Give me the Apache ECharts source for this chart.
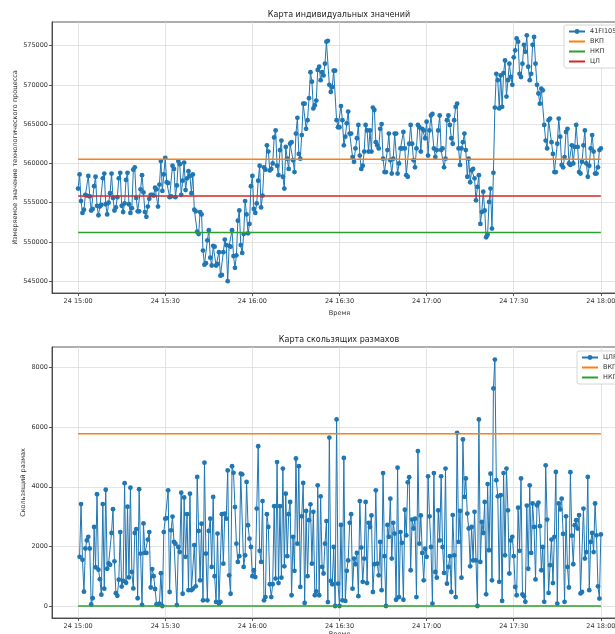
<!DOCTYPE html>
<html><head><meta charset="utf-8">
<script src="https://cdn.jsdelivr.net/npm/echarts@6/dist/echarts.min.js"></script>
<style>html,body{margin:0;padding:0;background:#fff}#c{width:615px;height:634px}</style>
</head><body><div id="c"></div>
<script>
// ---- data ----
const seriesName = '41FI1055';
const SAMPLE_STEP_MIN = 0.5;           // one sample every 30 s, starting 24 15:00
const xTickValues = [0, 30, 60, 90, 120, 150, 180];
const xTickLabels = ['24 15:00', '24 15:30', '24 16:00', '24 16:30', '24 17:00', '24 17:30', '24 18:00'];
const yTopTicks = [545000, 550000, 555000, 560000, 565000, 570000, 575000];
const yBottomTicks = [0, 2000, 4000, 6000, 8000];

const UCL_X = 560520;
const CL_X = 555840;
const LCL_X = 551210;
const UCL_MR = 5780;
const LCL_MR = 0;

const values1500 = [
556800,558600,555200,553700,554100,556000,555900,558400,555800,554000,
554200,557100,558300,554600,553400,554500,554700,558100,558700,554800,
553500,555000,556200,558700,555600,554000,554400,555700,558100,558800,
554600,553800,554900,557900,558800,554800,553700,554300,559200,559500,
555600,553900,553900,556700,558500,556300,553800,553200,554500,555500,
556000,556000,555900,556900,556700,554500,557300,560300,556500,558600];
const values1530 = [
560700,557600,557500,555700,555800,559700,559300,555700,557200,560300,
559900,556000,557800,560100,556600,558100,559000,558400,556200,558600,
554100,553900,551300,551000,553800,553500,548900,547100,547300,550200,
551500,548000,547000,549500,549400,547000,547200,548700,545700,545800,
548700,550300,549600,545000,549500,549400,551500,548200,546700,548300,
552700,554000,549600,548600,551000,555200,553500,551100,552300,557100,
558400,554200,553700];
const values1600 = [
554900,557800,559700,554400,555900,559500,559200,562300,561500,559100,
559300,560000,563300,564200,559700,558500,561700,562900,558300,556800,
562100,560600,559300,562500,562700,560400,558900,563800,565800,561200,
560600,563600,567600,567600,564400,565500,568300,571600,570400,567000,
567400,568000,571900,572300,570600,571600,571200,572700,575500,575600,
570000,569100,569700,571800,571800,565500,564600,564600];
const values1630 = [
567300,565500,562300,563400,565100,566600,563800,563800,560800,560200,
561900,563200,564900,561000,559300,559700,561500,564900,564200,561500,
564200,561500,567100,566800,562700,562300,561900,564400,565000,560600,
558900,558900,561700,563800,560400,558700,560600,563800,563800,558700,
560000,561900,561900,564000,561900,558500,558300,562500,564900,562500,
560400,559500,561900,564900,564600,561500,564400,564200,563200,565300];
const values1700 = [
561000,564200,566100,566300,561900,560800,561700,564200,566100,561700,
561900,559500,560600,565500,566100,564900,563200,562500,565500,567200,
567600,561900,559800,561900,562700,563800,561700,558300,560600,557600,
559100,559300,558100,555300,557000,558500,552300,553800,556400,554000,
550600,550900,555100,556800,551700,558800];
const values1723 = [
567100,571400,570600,567000,571200,567200,571500,573100,568500,570600,
572700,571000,570000,573500,574400,575900,575500,571400,571000,572700,
575100,574200,576300,572300,570600,571400,575100,576100,572700,570000,
568900,567600,569500,569300,564900,562900,561900,565500,565700,562700,
561200,558900,558900,562500,565700,563400,559800,559500,560800,564000,
564400,560000,559800,562300,560000,562100,564900,562100,558900,558700,
560200,562300,564200,560000,558300,559700,561900,563600,561500,558700,
558700,559500,561700,561900];

// moving ranges, first one at 15:00:30
const ranges1500 = [
1650,3420,1550,480,1930,2200,2320,1930,50,260,
2650,1300,3750,1220,900,380,3420,580,3900,1250,
1430,1380,2450,3250,1500,430,340,880,2480,650,
840,4120,780,3330,960,3970,1140,590,2450,2580,
260,3920,1760,40,2770,1780,1780,2230,2480,620,
1240,1000,570,60,50,80,1100,0,2480,2930];
const ranges1530 = [
2950,3880,470,2540,3000,2150,2090,30,1980,1810,
3800,410,3640,1650,3080,530,3770,530,580,2040,
660,4330,2520,860,2760,190,4810,1760,190,2520,
2930,1310,3660,1000,135,2430,80,135,3080,1420,
3100,2930,4550,1030,410,4690,4470,3320,2090,1480,
1670,4440,4420,1310,1700,4160,2710,2260,1980,1000];
const ranges1600 = [
1200,970,3270,5360,1850,1480,3520,190,300,3080,
2650,730,300,730,3350,920,4830,770,3350,950,
4610,1330,3770,1670,3080,3490,360,2320,1180,4950,
2090,4690,640,3010,4130,100,3190,1000,2880,3410,
1420,3160,360,490,4050,360,3680,1310,1090,2090,
2850,130,5650,840,730,1980,0,6260,750,0];
const ranges1630 = [
2720,190,4970,170,1180,1530,2790,3080,580,1590,
1400,1780,330,3520,1960,810,1590,3490,770,2790,
2650,3040,470,1400,3880,1420,1030,2150,530,4460,
1670,0,2720,2320,3600,1590,2790,2430,210,4640,
300,2480,2120,210,3230,2370,4150,4320,1200,2900,
2600,2930,300,5200,2090,3040,1780,860,1920,1650];
const ranges1700 = [
4350,3010,1980,80,4460,1140,950,3210,2200,4350,
1980,1110,4610,750,1310,1670,470,3050,1700,300,
5810,2150,3190,950,5590,3660,4280,3100,2600,1330,
2650,1530,3160,1530,0,6260,1480,2820,2450,3490,
390,4090,1870,4440,860,7300,8270];
const ranges1724 = [
4220,3680,810,3720,170,4460,1700,4610,3210,1090,
2200,2320,1670,640,360,3300,1850,4280,390,330,
140,3370,1250,4050,1780,3440,2650,890,3380,3470,
2680,1200,1980,140,4720,2900,440,1370,2230,770,
2320,4500,80,3440,3240,3600,2420,140,3010,1310,
620,4490,2360,1400,2710,2880,2600,3050,420,470,
3270,1590,1810,4330,530,2150,2450,1810,3440,2370,
660,250,2400];

const individualValues = [].concat(values1500, values1530, values1600, values1630, values1700, values1723);
const movingRanges = [].concat(ranges1500, ranges1530, ranges1600, ranges1630, ranges1700, ranges1724);

// ---- chart ----
const FONT = 'DejaVu Sans';
const TXT = '#333';
const BLUE = '#1f77b4', ORANGE = '#ff7f0e', GREEN = '#2ca02c', RED = '#d62728';

const topData = individualValues.map((v, i) => [i * SAMPLE_STEP_MIN, v]);
const bottomData = movingRanges.map((v, i) => [(i + 1) * SAMPLE_STEP_MIN, v]);
const xFirst = xTickValues[0], xLast = xTickValues[xTickValues.length - 1];

function xAxisCfg(gi, gap) {
  return {
    type: 'value', gridIndex: gi, min: -9, max: 189,
    axisLine: { show: true, onZero: false, lineStyle: { color: TXT, width: 0.8 } },
    axisTick: { show: true, length: 3, customValues: xTickValues, lineStyle: { color: TXT, width: 0.8 } },
    axisLabel: { customValues: xTickValues, formatter: v => xTickLabels[xTickValues.indexOf(v)],
      fontSize: 6.5, color: TXT, fontFamily: FONT, margin: 5 },
    splitLine: { show: true, lineStyle: { color: '#dcdcdc', width: 0.8 } },
    name: 'Время', nameLocation: 'middle', nameGap: gap, nameMoveOverlap: false,
    nameTextStyle: { fontSize: 6.5, color: TXT, fontFamily: FONT }
  };
}
function yAxisCfg(gi, min, max, ticks, name, gap) {
  return {
    type: 'value', gridIndex: gi, min: min, max: max,
    axisLine: { show: true, onZero: false, lineStyle: { color: TXT, width: 0.8 } },
    axisTick: { show: true, length: 3, customValues: ticks, lineStyle: { color: TXT, width: 0.8 } },
    axisLabel: { customValues: ticks, formatter: v => String(v), fontSize: 6.5, color: TXT, fontFamily: FONT, margin: 4 },
    splitLine: { show: true, lineStyle: { color: '#dcdcdc', width: 0.8 } },
    name: name, nameLocation: 'middle', nameGap: gap, nameRotate: 90, nameMoveOverlap: false,
    nameTextStyle: { fontSize: 6.5, color: TXT, fontFamily: FONT }
  };
}
function hline(name, value, color, xi) {
  return { name: name, type: 'line', xAxisIndex: xi, yAxisIndex: xi,
    data: [[xFirst, value], [xLast, value]], symbol: 'none',
    lineStyle: { color: color, width: 1.5 }, itemStyle: { color: color }, z: 3, silent: true };
}
const legendCommon = {
  orient: 'vertical', itemGap: 3, itemWidth: 16, itemHeight: 6,
  textStyle: { fontSize: 6.5, color: TXT, fontFamily: FONT },
  backgroundColor: '#fff', borderColor: '#cccccc', borderWidth: 0.8, borderRadius: 2, padding: [3, 4]
};
const lineOnly = name => ({ name: name, itemStyle: { opacity: 0 } });

const chart = echarts.init(document.getElementById('c'), null, { renderer: 'canvas' });
chart.setOption({
  animation: false,
  backgroundColor: '#fff',
  textStyle: { fontFamily: FONT },
  graphic: [
    { type: 'text', x: 339, y: 15, style: { text: 'Карта индивидуальных значений', align: 'center', verticalAlign: 'middle', fontSize: 8, fontFamily: FONT, fill: '#222' } },
    { type: 'text', x: 339, y: 340, style: { text: 'Карта скользящих размахов', align: 'center', verticalAlign: 'middle', fontSize: 8, fontFamily: FONT, fill: '#222' } }
  ],
  grid: [
    { left: 52, top: 22, width: 575, height: 271, show: true, borderColor: TXT, borderWidth: 0.8, backgroundColor: '#fff', containLabel: false, outerBoundsMode: 'none' },
    { left: 52, top: 347, width: 575, height: 271, show: true, borderColor: TXT, borderWidth: 0.8, backgroundColor: '#fff', containLabel: false, outerBoundsMode: 'none' }
  ],
  xAxis: [xAxisCfg(0, 17), xAxisCfg(1, 13)],
  yAxis: [
    yAxisCfg(0, 543500, 578000, yTopTicks, 'Измеряемое значение технологического процесса', 33),
    yAxisCfg(1, -403, 8691, yBottomTicks, 'Скользящий размах', 25)
  ],
  legend: [
    Object.assign({ data: [seriesName, lineOnly('ВКП'), lineOnly('НКП'), lineOnly('ЦЛ')], left: 564, top: 25 }, legendCommon),
    Object.assign({ data: ['ЦЛР', lineOnly('ВКП'), lineOnly('НКП')], left: 577, top: 351 }, legendCommon)
  ],
  series: [
    { name: seriesName, type: 'line', xAxisIndex: 0, yAxisIndex: 0, data: topData,
      symbol: 'circle', symbolSize: 4.8, lineStyle: { color: BLUE, width: 1 }, itemStyle: { color: BLUE }, z: 2 },
    hline('ВКП', UCL_X, ORANGE, 0),
    hline('НКП', LCL_X, GREEN, 0),
    hline('ЦЛ', CL_X, RED, 0),
    { name: 'ЦЛР', type: 'line', xAxisIndex: 1, yAxisIndex: 1, data: bottomData,
      symbol: 'circle', symbolSize: 4.8, lineStyle: { color: BLUE, width: 1 }, itemStyle: { color: BLUE }, z: 2 },
    hline('ВКП', UCL_MR, ORANGE, 1),
    hline('НКП', LCL_MR, GREEN, 1)
  ]
});
</script>
</body></html>
